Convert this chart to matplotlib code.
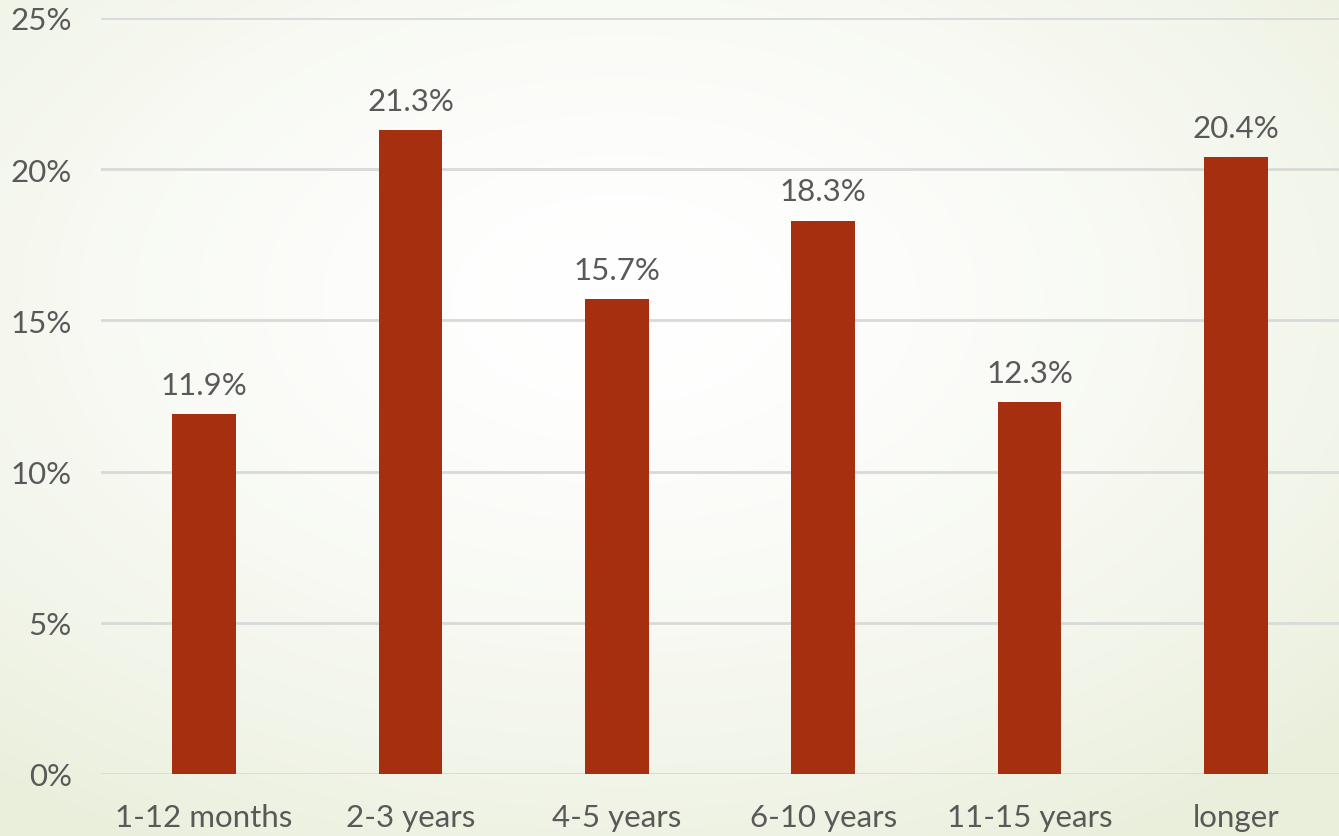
import numpy as np
import matplotlib.pyplot as plt
from matplotlib.ticker import FuncFormatter

categories = ['1-12 months', '2-3 years', '4-5 years', '6-10 years', '11-15 years', 'longer']
shares = [11.9, 21.3, 15.7, 18.3, 12.3, 20.4]
labels = ['11.9%', '21.3%', '15.7%', '18.3%', '12.3%', '20.4%']

plt.rcParams['font.family'] = ['Lato', 'DejaVu Sans']
text_color = '#595959'
fsize = 22.5

fig = plt.figure(figsize=(13.39, 8.37), dpi=100)

# radial gradient background
bg = fig.add_axes([0, 0, 1, 1], zorder=-10)
yy, xx = np.mgrid[0:837, 0:1339]
r = np.sqrt(((xx - 620) / 1339) ** 2 + ((yy - 300) / 837) ** 2)
t = np.clip(r / 0.75, 0, 1) ** 1.6
c0 = np.array([1.0, 1.0, 1.0])
c1 = np.array([0xEA, 0xEF, 0xDC]) / 255
img = c0[None, None, :] * (1 - t[..., None]) + c1[None, None, :] * t[..., None]
bg.imshow(img, aspect='auto', extent=[0, 1, 0, 1], origin='upper')
bg.axis('off')

ax = fig.add_axes([101 / 1339, 1 - 775 / 837, 1 - 101 / 1339, (775 - 19) / 837])
ax.patch.set_alpha(0)
x = np.arange(len(categories))
ax.bar(x, shares, width=0.31, color='#A52F0F', zorder=3)
for xi, v, lab in zip(x, shares, labels):
    ax.text(xi, v + 0.5, lab, ha='center', va='bottom', fontsize=fsize, color=text_color)

ax.set_xlim(-0.5, len(categories) - 0.5)
ax.set_ylim(0, 25)
ax.set_yticks([0, 5, 10, 15, 20, 25])
ax.yaxis.set_major_formatter(FuncFormatter(lambda v, p: '%d%%' % v))
ax.set_xticks(x)
ax.set_xticklabels(categories)
ax.tick_params(axis='both', length=0, labelsize=fsize, labelcolor=text_color)
ax.tick_params(axis='y', pad=21)
ax.tick_params(axis='x', pad=21)
ax.grid(axis='y', color='#D9D9D9', linewidth=2, zorder=0)
for s in ax.spines.values():
    s.set_visible(False)

plt.savefig('out.png', dpi=100)
